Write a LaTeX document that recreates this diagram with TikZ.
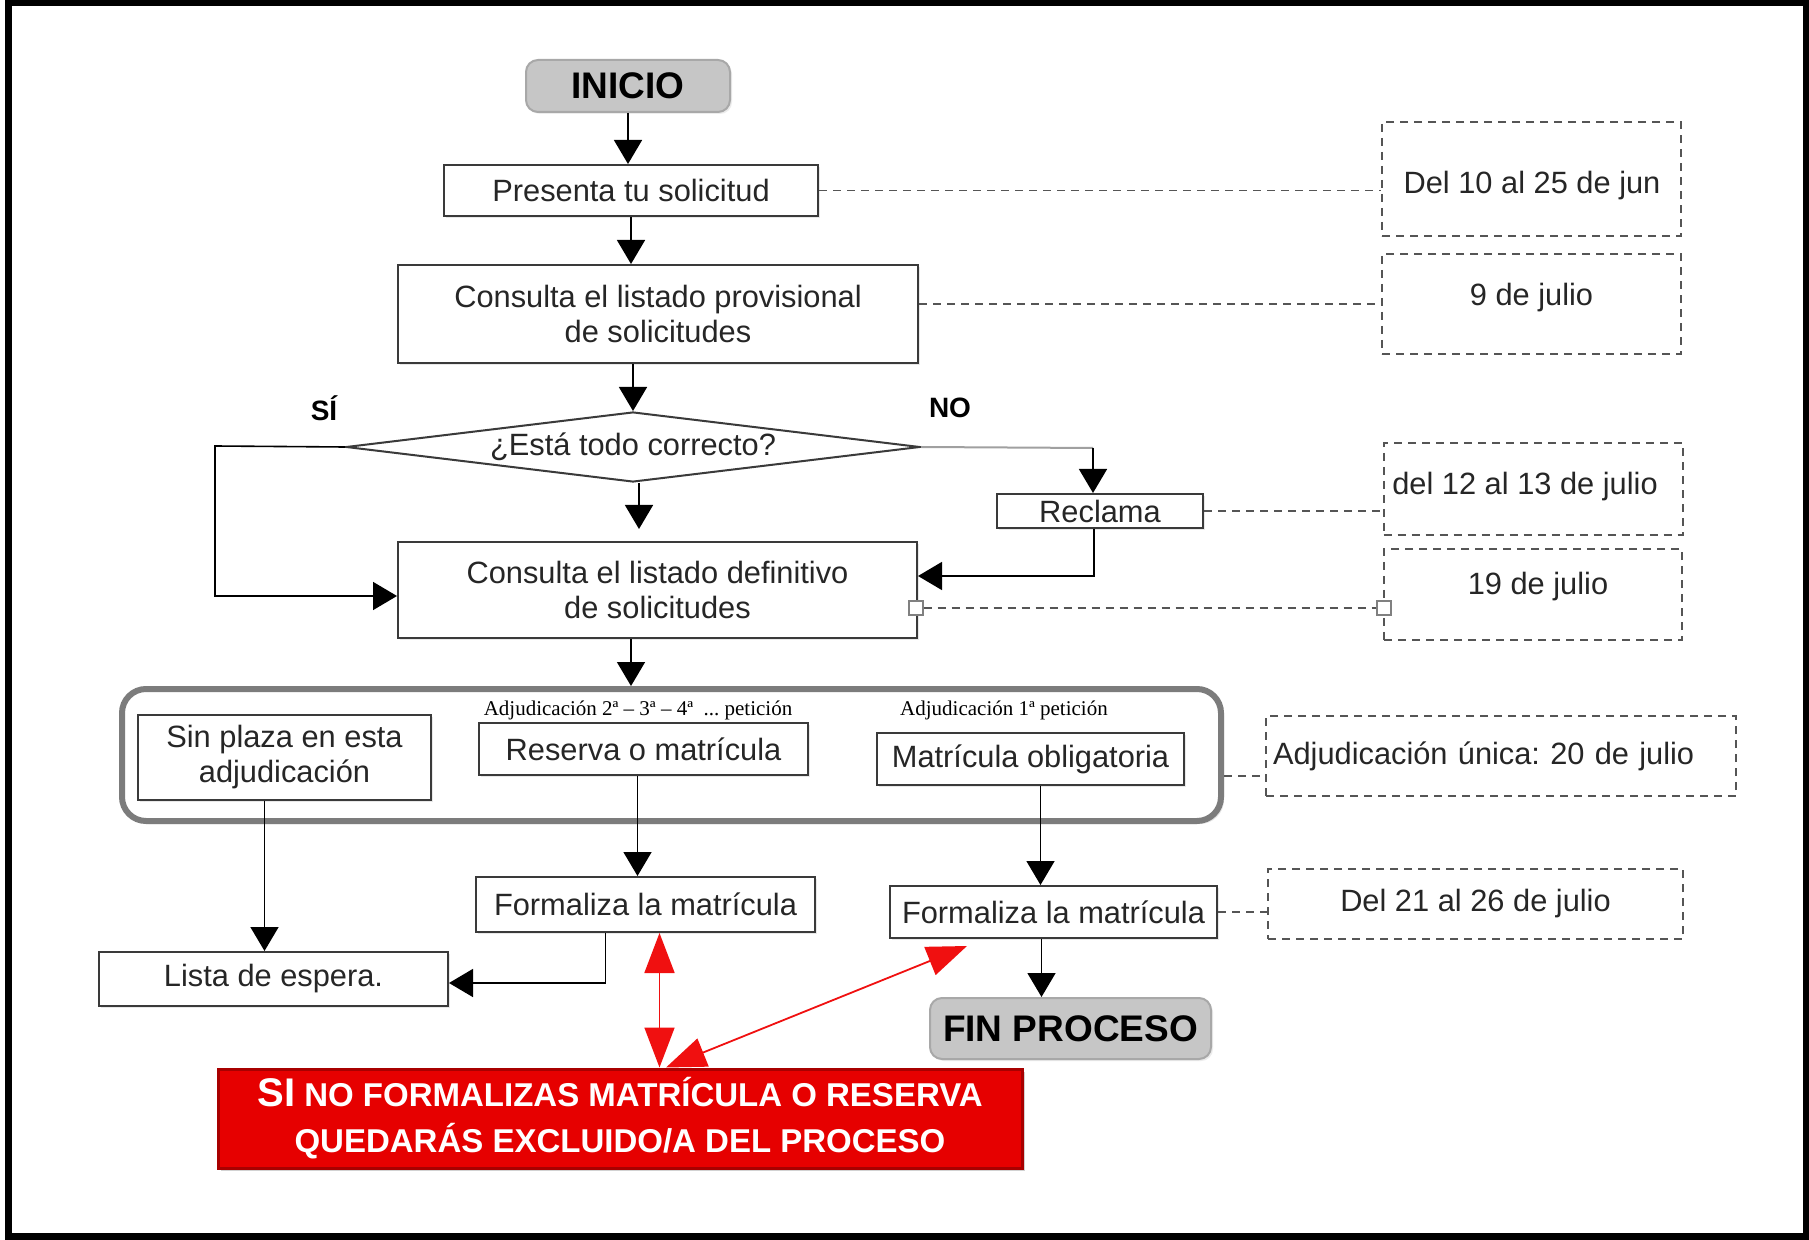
\documentclass[tikz,border=0pt]{standalone}
\usepackage{fontspec}
\setmainfont{Liberation Sans}
\newfontfamily\serifx{Liberation Serif}
\usetikzlibrary{arrows.meta,shapes.geometric,calc,shadows}
\frenchspacing
\definecolor{txt}{HTML}{262626}
\definecolor{boxc}{HTML}{3A3A3A}
\definecolor{gfill}{HTML}{C6C6C6}
\definecolor{gdraw}{HTML}{A8A8A8}
\definecolor{dashc}{HTML}{555555}
\definecolor{grpc}{HTML}{7C7C7C}
\definecolor{redf}{HTML}{E60000}
\definecolor{redd}{HTML}{A80000}
\definecolor{redl}{HTML}{F01010}
\definecolor{nogray}{HTML}{A0A0A0}
\begin{document}
\begin{tikzpicture}[x=0.5pt,y=-0.5pt,
  every node/.style={font=\fontsize{15.4}{17.5}\selectfont, text=txt},
  box/.style={draw=boxc, line width=1pt, fill=white, inner sep=1pt, align=center,
    drop shadow={opacity=0.18, shadow xshift=1pt, shadow yshift=-1pt}},
  gbox/.style={draw=gdraw, line width=1pt, fill=gfill, rounded corners=6pt,
    font=\bfseries\fontsize{18.5}{20}\selectfont, text=black, inner sep=1pt,
    drop shadow={opacity=0.15, shadow xshift=1pt, shadow yshift=-1pt}},
  dia/.style={draw=boxc, line width=1pt, fill=white, shape=diamond, aspect=8.2,
    inner sep=0pt, minimum width=287pt, minimum height=35pt},
  lbl/.style={font=\bfseries\fontsize{14}{16}\selectfont, text=black},
  smalllbl/.style={font=\serifx\fontsize{10.5}{12}\selectfont, text=black, inner sep=0pt},
  dbox/.style={draw=dashc, line width=1pt, dash pattern=on 4pt off 3pt, align=center},
  dline/.style={draw=dashc, line width=0.9pt, dash pattern=on 4pt off 3pt},
  conn/.style={draw=black, line width=0.8pt, -{Triangle[width=14pt,length=12pt]}},
  redarrow/.style={draw=redl, line width=0.9pt,
    {Triangle[width=15pt,length=20pt]}-{Triangle[width=15pt,length=20pt]}},
  sqmark/.style={draw=gray, fill=white, line width=0.6pt, minimum size=7pt, inner sep=0pt}
]
\useasboundingbox (0,0) rectangle (1809,1240);
\fill[white] (0,0) rectangle (1809,1240);
\draw[line width=3.5pt] (8,3) rectangle (1806,1236);

% main flow nodes
\node[gbox, minimum width=102pt, minimum height=26pt] (ini) at (628,86) {INICIO};
\node[box, minimum width=187pt, minimum height=25.5pt] (pres) at (631,190.5) {Presenta tu solicitud};
\node[box, minimum width=260pt, minimum height=49pt] (prov) at (658,314) {Consulta el listado provisional\\de solicitudes};
\node[dia] (dia) at (633,447) {¿Está todo correcto?};
\node[lbl] (si) at (324,408) {SÍ};
\node[lbl] (no) at (950,408) {NO};
\node[box, minimum width=103pt, minimum height=17pt, inner sep=0pt] (recl) at (1100,511) {Reclama};
\node[box, minimum width=259.5pt, minimum height=48pt] (def) at (657.5,590) {Consulta el listado definitivo\\de solicitudes};

% adjudication group
\node[draw=grpc, line width=3pt, rounded corners=12pt, minimum width=549.5pt, minimum height=66pt,
  drop shadow={opacity=0.2, shadow xshift=1.5pt, shadow yshift=-1.5pt}, fill=white] (grp) at (671.5,755) {};
\node[box, minimum width=146.5pt, minimum height=42.5pt] (sin) at (284.5,757) {Sin plaza en esta\\adjudicación};
\node[smalllbl] (l2) at (638,710) {Adjudicación 2ª – 3ª – 4ª \ ... petición};
\node[box, minimum width=164.5pt, minimum height=26pt] (res) at (643.5,749) {Reserva o matrícula};
\node[smalllbl] (l1) at (1004,710) {Adjudicación 1ª petición};
\node[box, minimum width=153.5pt, minimum height=26pt] (mat) at (1030.5,759) {Matrícula obligatoria};

% lower nodes
\node[box, minimum width=174.5pt, minimum height=27pt] (lista) at (273.5,979) {Lista de espera.};
\node[box, minimum width=169.5pt, minimum height=27.5pt] (f1) at (645.5,904.5) {Formaliza la matrícula};
\node[box, minimum width=163.5pt, minimum height=26pt] (f2) at (1053.5,912) {Formaliza la matrícula};
\node[gbox, minimum width=140.5pt, minimum height=30.5pt] (fin) at (1070.5,1028.5) {FIN PROCESO};
\node[draw=redd, line width=1.5pt, fill=redf, minimum width=402pt, minimum height=49.5pt, align=center,
  text=white, font=\bfseries\fontsize{16.5}{23}\selectfont,
  drop shadow={opacity=0.35, shadow xshift=1.5pt, shadow yshift=-1.5pt}] (warn) at (620,1118.5)
  {{\fontsize{20}{23}\selectfont SI} NO FORMALIZAS MATRÍCULA O RESERVA\\QUEDARÁS EXCLUIDO/A DEL PROCESO};

% date boxes
\node[dbox, minimum width=149.5pt, minimum height=57pt] (d1) at (1531.5,179) {};
\node (d1t) at (1532,186) {Del 10 al 25 de jun};
\node[dbox, minimum width=149.5pt, minimum height=50pt] (d2) at (1531.5,304) {};
\node (d2t) at (1531.5,298) {9 de julio};
\node[dbox, minimum width=149.5pt, minimum height=46pt] (d3) at (1533,489) {};
\node (d3t) at (1525,487) {del 12 al 13 de julio};
\node[dbox, minimum width=149pt, minimum height=45.5pt] (d4) at (1533,594.5) {};
\node (d4t) at (1538,587) {19 de julio};
\node[dbox, minimum width=235pt, minimum height=40pt, inner xsep=3.5pt, text width=228pt, align=left] (d5) at (1501,756) {Adjudicación única: 20 de julio};
\node[dbox, minimum width=207.5pt, minimum height=35pt] (d6) at (1475.5,904) {Del 21 al 26 de julio};

% connector markers
\node[sqmark] (sq1) at (916,608) {};
\node[sqmark] (sq2) at (1384,608) {};

% black connectors
\draw[conn] (ini.south) -- (ini.south |- pres.north);
\draw[conn] (pres.south) -- (pres.south |- prov.north);
\draw[conn] (prov.south -| dia.north) -- (dia.north);
\draw[conn, shorten >=6pt] ([xshift=3pt]dia.south) -- ([xshift=3pt]dia.south |- def.north);
\coordinate (siL) at (215,446);
\draw[conn] (dia.west) -- (siL) |- ([yshift=-3pt]def.west);
\coordinate (noC) at (1093,448);
\draw[draw=nogray, line width=1pt] (dia.east) -- (noC);
\draw[conn] (noC) -- (noC |- recl.north);
\draw[conn] ([xshift=-3pt]recl.south) |- ([yshift=7pt]def.east);
\draw[conn] (def.south -| pres.south) -- (grp.north -| pres.south);
\draw[conn] ([xshift=-10pt]sin.south) -- ([xshift=-10pt]sin.south |- lista.north);
\draw[conn] ([xshift=-3pt]res.south) -- ([xshift=-3pt]res.south |- f1.north);
\draw[conn] ([xshift=-20pt]f1.south) |- ([yshift=-2pt]lista.east);
\draw[conn] ([xshift=5pt]mat.south) -- ([xshift=5pt]mat.south |- f2.north);
\draw[conn] ([xshift=-6pt]f2.south) -- ([xshift=-6pt]f2.south |- fin.north);

% dashed links
\draw[dline] (pres.east) -- (pres.east -| d1.west);
\draw[dline] (d2.west -| prov.east) -- (d2.west);
\draw[dline] (recl.east) -- (recl.east -| d3.west);
\draw[dline] (sq1) -- (sq2);
\draw[dline] ([yshift=-10pt]d5.west -| grp.east) -- ([yshift=-10pt]d5.west);
\draw[dline] (f2.east) -- (f2.east -| d6.west);

% red arrows
\draw[redarrow] ([xshift=7pt]f1.south) -- ([xshift=7pt]f1.south |- warn.north);
\coordinate (rt) at (967,946);
\draw[redarrow] ([xshift=23pt]warn.north) -- (rt);
\end{tikzpicture}
\end{document}
